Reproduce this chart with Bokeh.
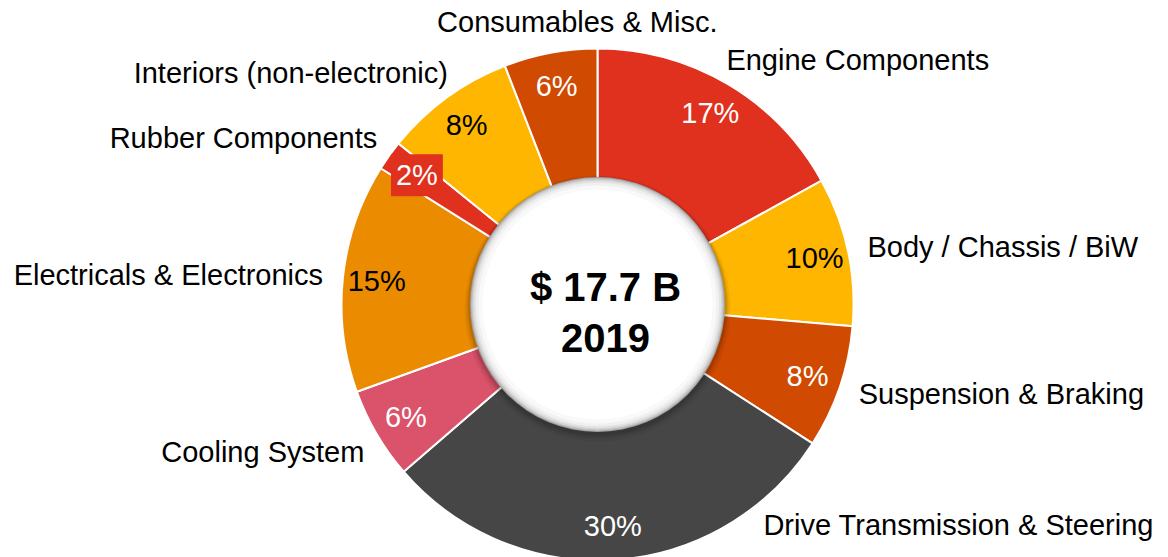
import numpy as np
from bokeh.plotting import figure
from bokeh.models import Range1d, ColumnDataSource
from bokeh.embed import file_html
from bokeh.resources import INLINE
from bokeh.core.properties import value

# ---------------- data ----------------
categories = ["Engine Components", "Body / Chassis / BiW", "Suspension & Braking",
              "Drive Transmission & Steering", "Cooling System", "Electricals & Electronics",
              "Rubber Components", "Interiors (non-electronic)", "Consumables & Misc."]
shares = [17.0, 9.4, 7.8, 29.6, 5.8, 14.5, 1.9, 8.3, 5.9]
pct_labels = ["17%", "10%", "8%", "30%", "6%", "15%", "2%", "8%", "6%"]
colors = ["#E0301E", "#FFB600", "#D04A02", "#464646", "#DB536A",
          "#EB8C00", "#E0301E", "#FFB600", "#D04A02"]
pct_text_colors = ["white", "black", "white", "white", "white",
                   "black", "white", "black", "white"]
total_label = "$ 17.7 B"
year_label = "2019"

# ---------------- layout ----------------
W, H = 1168, 557
cx, cy = 597, -304          # picture pixel coordinates (y negated)
R_OUT, R_IN = 256, 118
R_PCT, R_CAT = 222, 276
FONT = "Liberation Sans"
label_angle_shift = {"Engine Components": -2.7, "Drive Transmission & Steering": -33.0,
                     "Cooling System": -2.0, "Interiors (non-electronic)": 3.3,
                     "Rubber Components": 1.5, "Consumables & Misc.": 6.5}
label_radius_override = {"Consumables & Misc.": 283}

p = figure(width=W, height=H, output_backend="svg", toolbar_location=None,
           x_range=Range1d(0, W), y_range=Range1d(-H, 0),
           x_axis_location=None, y_axis_location=None, min_border=0,
           outline_line_color=None, background_fill_color="white",
           border_fill_color="white")
p.grid.visible = False

vals = np.array(shares, dtype=float)
frac = vals / vals.sum()
end = np.cumsum(frac)
start = end - frac
mid = (start + end) / 2 * 2 * np.pi   # clockwise from top

src = ColumnDataSource(dict(
    start_angle=np.pi / 2 - 2 * np.pi * end,
    end_angle=np.pi / 2 - 2 * np.pi * start,
    color=colors,
))
p.annular_wedge(x=cx, y=cy, inner_radius=R_IN, outer_radius=R_OUT,
                start_angle="start_angle", end_angle="end_angle",
                fill_color="color", line_color="white", line_width=2, source=src)

# inner white disc with soft shadow
for r, a, dy in [(133, 0.05, -4), (131, 0.07, -3), (129.5, 0.10, -2)]:
    p.circle(x=[cx], y=[cy + dy], radius=r, fill_color="black", fill_alpha=a, line_color=None)
for r, c in [(127.5, "#a0a0a0"), (126.5, "#bdbdbd"), (125.3, "#d2d2d2"),
             (123.8, "#e3e3e3"), (121.8, "#f0f0f0"), (119, "#f9f9f9"), (115, "#ffffff")]:
    p.circle(x=[cx], y=[cy], radius=r, fill_color=c, line_color=None)

# percentage labels
px = cx + R_PCT * np.sin(mid)
py = cy + R_PCT * np.cos(mid)
normal = [i for i, c in enumerate(categories) if c != "Rubber Components"]
psrc = ColumnDataSource(dict(x=px[normal], y=py[normal],
                             t=[pct_labels[i] for i in normal],
                             c=[pct_text_colors[i] for i in normal]))
p.text(x="x", y="y", text="t", text_color="c", source=psrc,
       text_font=value(FONT), text_font_size="29px",
       text_align="center", text_baseline="middle")
ri = categories.index("Rubber Components")
p.text(x=[px[ri]], y=[py[ri]], text=[pct_labels[ri]], text_color=pct_text_colors[ri],
       text_font=value(FONT), text_font_size="29px",
       text_align="center", text_baseline="middle",
       background_fill_color=colors[ri], padding=5)

# category labels
for i, cat in enumerate(categories):
    th = mid[i] + np.deg2rad(label_angle_shift.get(cat, 0.0))
    r = label_radius_override.get(cat, R_CAT)
    lx = cx + r * np.sin(th)
    ly = cy + r * np.cos(th)
    s = np.sin(th)
    if abs(s) < 0.15:
        align = "center"
    elif s > 0:
        align = "left"
    else:
        align = "right"
    p.text(x=[lx], y=[ly], text=[cat], text_color="black",
           text_font=value(FONT), text_font_size="29px",
           text_align=align, text_baseline="middle")

# center text
p.text(x=[cx + 8], y=[cy + 18], text=[total_label], text_font=value(FONT),
       text_font_size="40px", text_font_style="bold", text_color="black",
       text_align="center", text_baseline="middle")
p.text(x=[cx + 8], y=[cy - 33], text=[year_label], text_font=value(FONT),
       text_font_size="40px", text_font_style="bold", text_color="black",
       text_align="center", text_baseline="middle")

open("out.html", "w").write(file_html(p, INLINE))
